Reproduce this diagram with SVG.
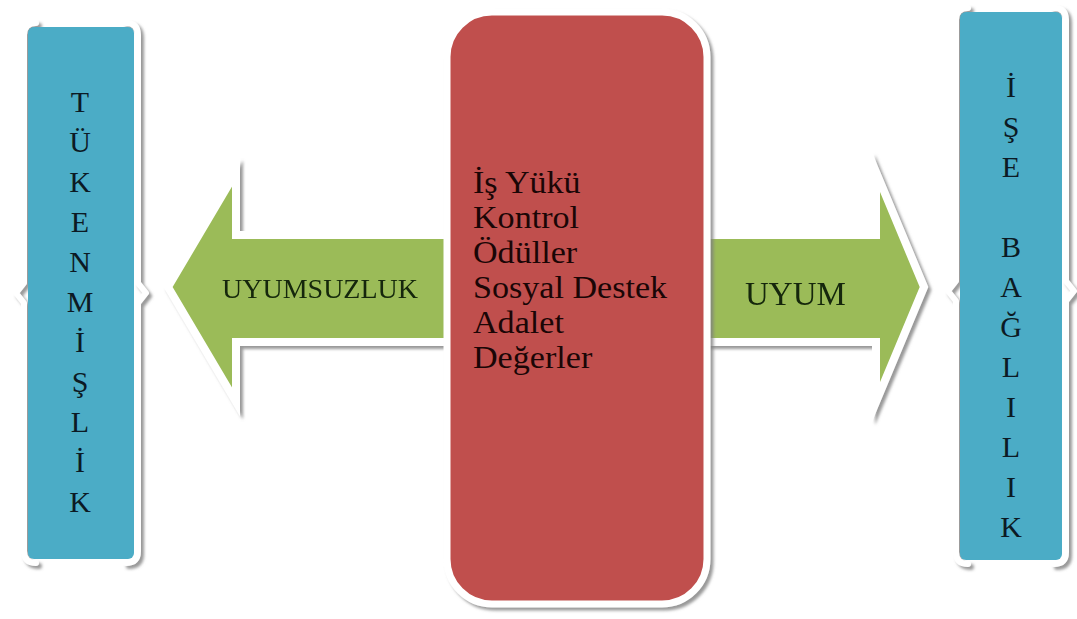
<svg xmlns="http://www.w3.org/2000/svg" width="1077" height="619" viewBox="0 0 1077 619">
<defs>
<filter id="sh" x="-10%" y="-10%" width="130%" height="130%">
<feDropShadow dx="3" dy="3" stdDeviation="1.5" flood-color="#7f7f7f" flood-opacity="0.8"/>
</filter>
</defs>
<style>
.blue{fill:#4BACC6;}
.brace{fill:none;stroke:#ffffff;stroke-width:6;stroke-linejoin:round;stroke-linecap:round;}
.green{fill:#9BBB59;stroke:#ffffff;stroke-width:8;stroke-linejoin:miter;stroke-miterlimit:10;}
.red{fill:#C0504D;stroke:#ffffff;stroke-width:7;}
.vt{font-family:"Liberation Serif","Times New Roman",serif;font-size:30px;fill:#0c1a24;text-anchor:middle;}
.lbl{font-family:"Liberation Serif","Times New Roman",serif;fill:#122608;}
.ct{font-family:"Liberation Serif","Times New Roman",serif;font-size:31px;fill:#1a0606;}
</style>
<rect width="1077" height="619" fill="#ffffff"/>
<g id="connectors">
<g id="arrow-left" filter="url(#sh)">
<polygon class="green" points="168,287 236,172 236,235 455,235 455,342 236,342 236,402"/>
<text class="lbl" x="222" y="298" font-size="28">UYUMSUZLUK</text>
</g>
<g id="arrow-right" filter="url(#sh)">
<polygon class="green" points="700,235 876,235 876,172 924,287 876,402 876,342 700,342"/>
<text class="lbl" x="745" y="305" font-size="33">UYUM</text>
</g>
</g>
<g id="tukenmislik">
<g filter="url(#sh)">
<path class="brace" d="M36,23 Q24,23 24,35 L24,283 L16,293 L24,303 L24,551 Q24,563 36,563"/>
<path class="brace" d="M126,23 Q138,23 138,35 L138,283 L146,293 L138,303 L138,551 Q138,563 126,563"/>
</g>
<rect class="blue" x="28" y="27" width="106" height="532" rx="6"/>
<text class="vt" x="80" y="112">T</text>
<text class="vt" x="80" y="152">Ü</text>
<text class="vt" x="80" y="192">K</text>
<text class="vt" x="80" y="232">E</text>
<text class="vt" x="80" y="272">N</text>
<text class="vt" x="80" y="312">M</text>
<text class="vt" x="80" y="352">İ</text>
<text class="vt" x="80" y="392">Ş</text>
<text class="vt" x="80" y="432">L</text>
<text class="vt" x="80" y="472">İ</text>
<text class="vt" x="80" y="512">K</text>
</g>
<g id="center">
<rect class="red" x="447" y="12" width="260" height="592" rx="45" filter="url(#sh)"/>
<g transform="translate(473,0) scale(1.1,1)">
<text class="ct" x="0" y="193">İş Yükü</text>
<text class="ct" x="0" y="228">Kontrol</text>
<text class="ct" x="0" y="263">Ödüller</text>
<text class="ct" x="0" y="298">Sosyal Destek</text>
<text class="ct" x="0" y="333">Adalet</text>
<text class="ct" x="0" y="368">Değerler</text>
</g>
</g>
<g id="ise-baglilik">
<g filter="url(#sh)">
<path class="brace" d="M968,8 Q956,8 956,20 L956,281 L948,291 L956,301 L956,552 Q956,564 968,564"/>
<path class="brace" d="M1054,8 Q1066,8 1066,20 L1066,281 L1074,291 L1066,301 L1066,552 Q1066,564 1054,564"/>
</g>
<rect class="blue" x="960" y="12" width="102" height="548" rx="6"/>
<text class="vt" x="1011" y="97">İ</text>
<text class="vt" x="1011" y="137">Ş</text>
<text class="vt" x="1011" y="177">E</text>
<text class="vt" x="1011" y="257">B</text>
<text class="vt" x="1011" y="297">A</text>
<text class="vt" x="1011" y="337">Ğ</text>
<text class="vt" x="1011" y="377">L</text>
<text class="vt" x="1011" y="417">I</text>
<text class="vt" x="1011" y="457">L</text>
<text class="vt" x="1011" y="497">I</text>
<text class="vt" x="1011" y="537">K</text>
</g>
</svg>
